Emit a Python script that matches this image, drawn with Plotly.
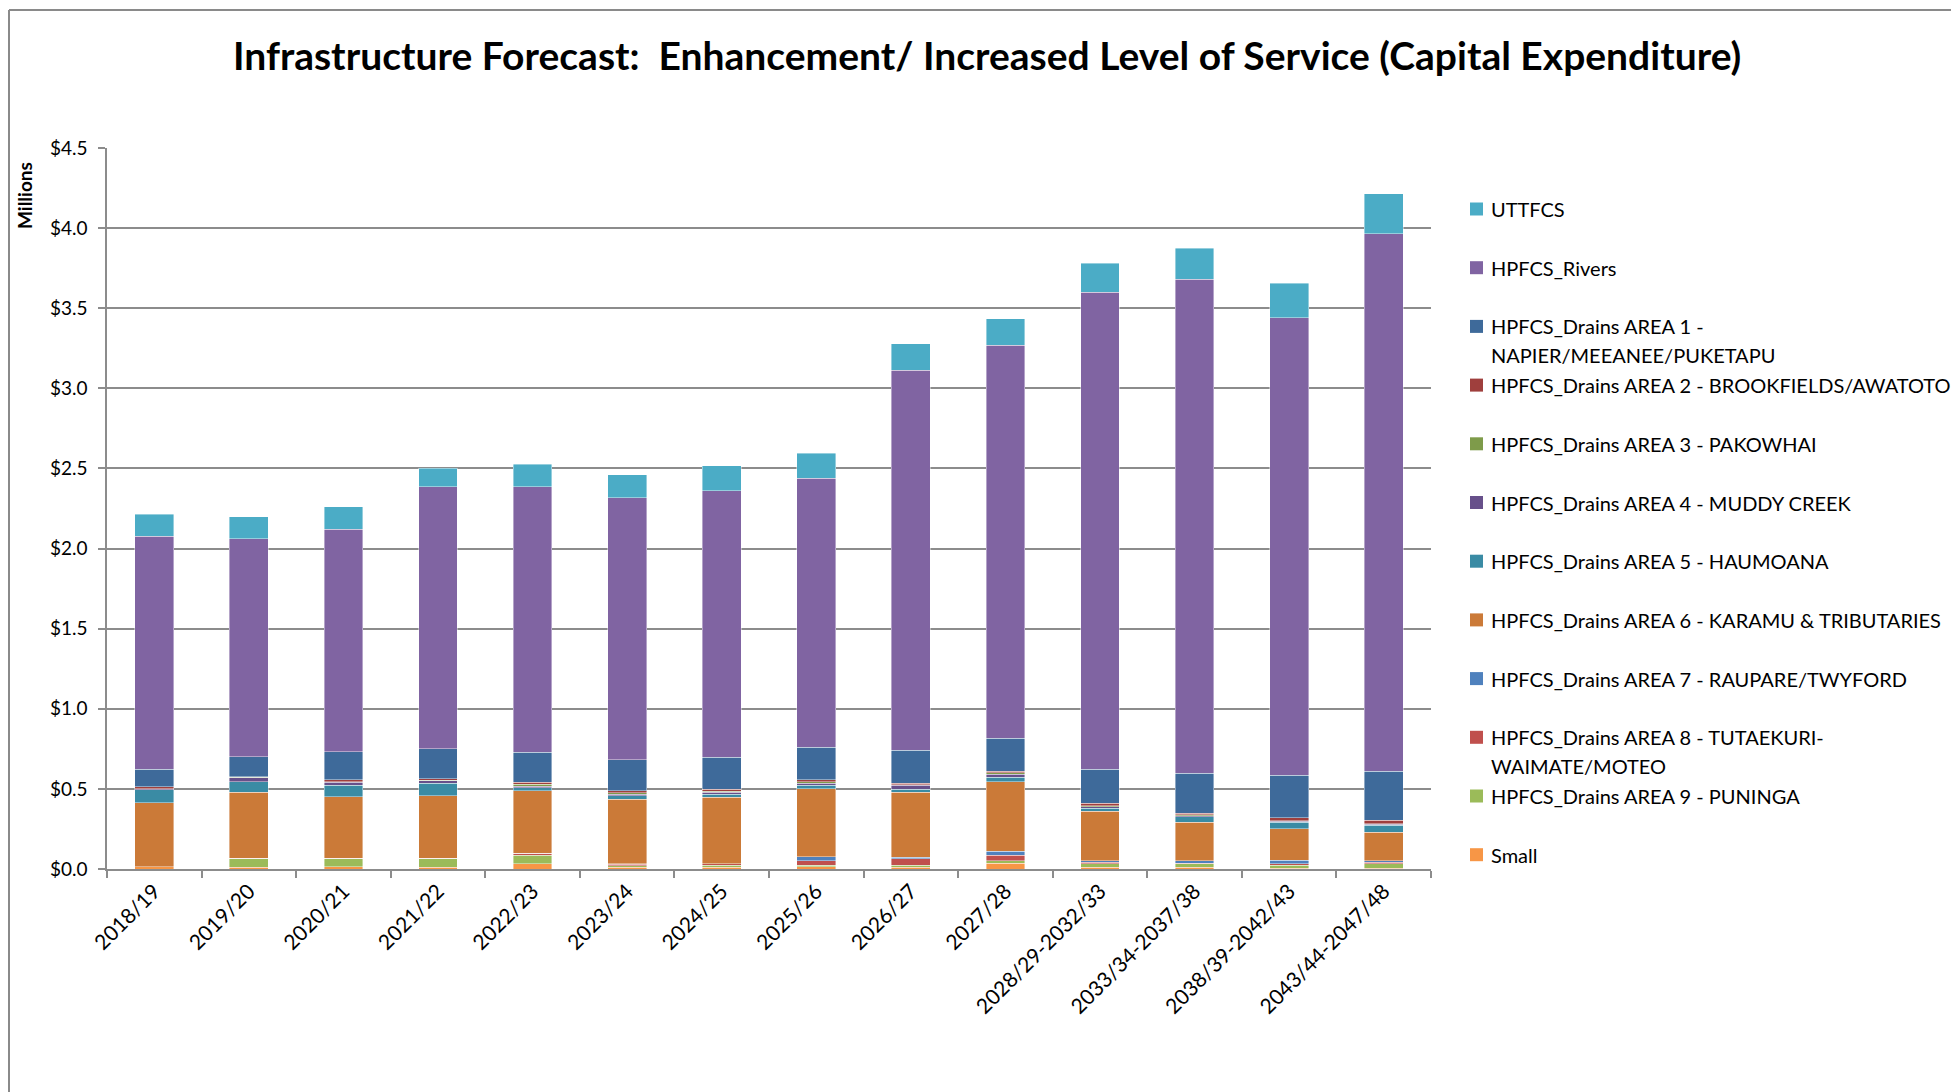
import plotly.graph_objects as go

# Periods on the x axis
periods = [
    "2018/19", "2019/20", "2020/21", "2021/22", "2022/23", "2023/24", "2024/25",
    "2025/26", "2026/27", "2027/28", "2028/29-2032/33", "2033/34-2037/38",
    "2038/39-2042/43", "2043/44-2047/48",
]

# Capital expenditure per scheme ($ millions), stacked bottom to top
small = [0.015, 0.012, 0.015, 0.012, 0.033, 0.012, 0.012, 0.015, 0.012, 0.035, 0.012, 0.012, 0.004, 0.006]
area9 = [0.000, 0.052, 0.050, 0.052, 0.054, 0.008, 0.010, 0.008, 0.010, 0.017, 0.021, 0.021, 0.020, 0.027]
area8 = [0.000, 0.004, 0.003, 0.003, 0.010, 0.010, 0.010, 0.030, 0.042, 0.035, 0.008, 0.004, 0.010, 0.008]
area7 = [0.000, 0.000, 0.000, 0.000, 0.000, 0.002, 0.002, 0.023, 0.010, 0.023, 0.012, 0.015, 0.020, 0.010]
area6 = [0.400, 0.411, 0.382, 0.391, 0.392, 0.404, 0.413, 0.425, 0.404, 0.435, 0.308, 0.240, 0.196, 0.177]
area5 = [0.079, 0.067, 0.073, 0.077, 0.019, 0.021, 0.021, 0.021, 0.021, 0.029, 0.019, 0.035, 0.042, 0.044]
area4 = [0.008, 0.025, 0.019, 0.017, 0.008, 0.010, 0.010, 0.013, 0.023, 0.017, 0.010, 0.006, 0.006, 0.006]
area3 = [0.000, 0.002, 0.003, 0.003, 0.012, 0.008, 0.008, 0.010, 0.004, 0.010, 0.004, 0.006, 0.003, 0.006]
area2 = [0.010, 0.004, 0.011, 0.009, 0.014, 0.012, 0.012, 0.012, 0.010, 0.008, 0.017, 0.008, 0.020, 0.021]
area1 = [0.111, 0.123, 0.175, 0.188, 0.186, 0.196, 0.198, 0.204, 0.204, 0.208, 0.213, 0.250, 0.265, 0.306]
rivers = [1.453, 1.360, 1.389, 1.633, 1.657, 1.633, 1.664, 1.679, 2.374, 2.453, 2.976, 3.083, 2.854, 3.355]
uttfcs = [0.139, 0.140, 0.140, 0.116, 0.140, 0.144, 0.157, 0.155, 0.163, 0.164, 0.180, 0.193, 0.216, 0.248]

# Series names (stack order, bottom first); <br> marks a wrapped legend line
series_names = [
    "Small",
    "HPFCS_Drains AREA 9 - PUNINGA",
    "HPFCS_Drains AREA 8 - TUTAEKURI-<br>WAIMATE/MOTEO",
    "HPFCS_Drains AREA 7 - RAUPARE/TWYFORD",
    "HPFCS_Drains AREA 6 - KARAMU & TRIBUTARIES",
    "HPFCS_Drains AREA 5 - HAUMOANA",
    "HPFCS_Drains AREA 4 - MUDDY CREEK",
    "HPFCS_Drains AREA 3 - PAKOWHAI",
    "HPFCS_Drains AREA 2 - BROOKFIELDS/AWATOTO",
    "HPFCS_Drains AREA 1 -<br>NAPIER/MEEANEE/PUKETAPU",
    "HPFCS_Rivers",
    "UTTFCS",
]
series_values = [small, area9, area8, area7, area6, area5, area4, area3, area2, area1, rivers, uttfcs]
series_colors = [
    "#F79646", "#9BBB59", "#C0504D", "#4F81BD", "#CB7A38", "#3A8BA4",
    "#67508A", "#7E9B4A", "#9F3F3D", "#3E6A9A", "#8064A2", "#4BACC6",
]

y_ticks = [0.0, 0.5, 1.0, 1.5, 2.0, 2.5, 3.0, 3.5, 4.0, 4.5]
y_tick_text = ["${:.1f}".format(v) for v in y_ticks]

W, H = 1951, 1092
PL, PR, PT, PB = 107, 1431, 148, 869  # plot area in pixels

def px_x(x):
    return (x - PL) / (PR - PL)

def px_y(y):
    return (PB - y) / (PB - PT)

FONT = "Lato"
GRID = "#8c8c8c"

fig = go.Figure()
for name, vals, col in zip(series_names, series_values, series_colors):
    fig.add_trace(go.Bar(
        x=periods, y=vals, name=name.replace("<br>", " "),
        marker=dict(color=col, line=dict(color="rgba(255,255,255,0.55)", width=0.75)),
        showlegend=False,
    ))

annotations = []
shapes = []

# Title
annotations.append(dict(
    text="<b>Infrastructure Forecast:  Enhancement/ Increased Level of Service (Capital Expenditure)</b>",
    x=px_x(987), y=px_y(55), xref="paper", yref="paper", showarrow=False,
    xanchor="center", yanchor="middle", font=dict(family=FONT, size=39, color="#000000"),
))

# Axis title
annotations.append(dict(
    text="<b>Millions</b>", x=px_x(25), y=px_y(196), xref="paper", yref="paper",
    showarrow=False, textangle=-90, xanchor="center", yanchor="middle",
    font=dict(family=FONT, size=19, color="#000000"),
))

# Legend, top entry first
leg_y0, leg_step, line_step = 209, 58.7, 28.6
for i, (name, col) in enumerate(zip(series_names[::-1], series_colors[::-1])):
    yc = leg_y0 + i * leg_step
    shapes.append(dict(
        type="rect", xref="paper", yref="paper",
        x0=px_x(1470), x1=px_x(1483), y0=px_y(yc - 6.5), y1=px_y(yc + 6.5),
        fillcolor=col, line=dict(width=0),
    ))
    for j, part in enumerate(name.split("<br>")):
        annotations.append(dict(
            text=part, x=px_x(1489), y=px_y(yc + j * line_step), xref="paper", yref="paper",
            showarrow=False, xanchor="left", yanchor="middle",
            font=dict(family=FONT, size=20, color="#000000"),
        ))

# Outer chart frame (top and left edges)
frame = "#8a8a8a"
shapes.append(dict(type="line", xref="paper", yref="paper",
                   x0=px_x(9), x1=px_x(W + 5), y0=px_y(10), y1=px_y(10),
                   line=dict(color=frame, width=2)))
shapes.append(dict(type="line", xref="paper", yref="paper",
                   x0=px_x(9), x1=px_x(9), y0=px_y(10), y1=px_y(H + 5),
                   line=dict(color=frame, width=2)))

fig.update_layout(
    width=W, height=H,
    margin=dict(l=PL, r=W - PR, t=PT, b=H - PB, pad=0),
    paper_bgcolor="white", plot_bgcolor="white",
    barmode="stack", bargap=0.59,
    showlegend=False,
    annotations=annotations, shapes=shapes,
    xaxis=dict(
        type="category", tickangle=-45, tickson="boundaries",
        ticks="outside", ticklen=7, tickcolor=GRID, tickwidth=1.5,
        showline=True, linecolor=GRID, linewidth=1.5, showgrid=False,
        tickfont=dict(family=FONT, size=21, color="#000000"),
    ),
    yaxis=dict(
        range=[0, 4.5], tickmode="array", tickvals=y_ticks, ticktext=y_tick_text,
        ticks="outside", ticklen=7, tickcolor=GRID, tickwidth=1.5,
        ticklabelstandoff=7,
        showline=True, linecolor=GRID, linewidth=1.5,
        showgrid=True, gridcolor=GRID, gridwidth=1.5, zeroline=False,
        tickfont=dict(family=FONT, size=19, color="#000000"),
    ),
)

fig.write_html("out.html")
